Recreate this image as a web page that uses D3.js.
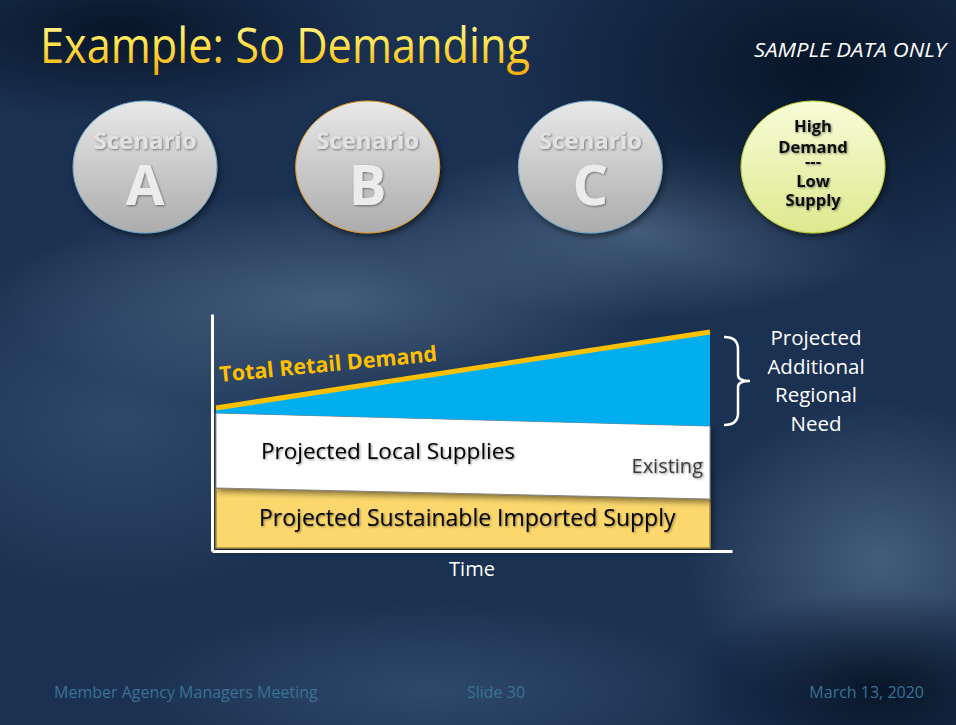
<!DOCTYPE html>
<html lang="en">
<head>
<meta charset="utf-8">
<title>Example: So Demanding</title>
<script src="https://d3js.org/d3.v7.min.js"></script>
<style>
  html, body { margin: 0; padding: 0; background: #1a3050; }
  svg { display: block; font-family: "Open Sans", sans-serif; }
</style>
</head>
<body>
<script>
// time runs from start (0) to end (1) of the planning window
var periods = [0, 1];
// sample data, arbitrary units
var importedSupply = [60, 49];   // projected sustainable imported supply
var localSupply = [75, 73];      // projected local supplies (existing), stacked on imports
var retailDemand = [140, 216];   // total retail demand

var scenarios = ["A", "B", "C"];
var scenarioEdges = ["#6fa8c8", "#e09a2a", "#6fa8c8"];
var highLowLines = ["High", "Demand", "---", "Low", "Supply"];
var needLines = ["Projected", "Additional", "Regional", "Need"];
var footerLabels = ["Member Agency Managers Meeting", "Slide 30", "March 13, 2020"];

var w = 956, h = 725;

var svg = d3.select("body").append("svg")
  .attr("width", w)
  .attr("height", h);

var defs = svg.append("defs");

// background blobs
function radial(id, color, op) {
  var g = defs.append("radialGradient").attr("id", id);
  g.append("stop").attr("offset", "0%").attr("stop-color", color).attr("stop-opacity", op);
  g.append("stop").attr("offset", "100%").attr("stop-color", color).attr("stop-opacity", 0);
}
radial("darkBlob", "#061426", 0.95);
radial("lightBlob", "#56708e", 0.7);
radial("midBlob", "#3a5677", 0.65);

var titleGrad = defs.append("linearGradient").attr("id", "titleGrad")
  .attr("x1", 0).attr("y1", 0).attr("x2", 0).attr("y2", 1);
titleGrad.append("stop").attr("offset", "0%").attr("stop-color", "#fffbb0");
titleGrad.append("stop").attr("offset", "50%").attr("stop-color", "#ffe34a");
titleGrad.append("stop").attr("offset", "100%").attr("stop-color", "#f7a500");

var grayGrad = defs.append("linearGradient").attr("id", "grayGrad")
  .attr("x1", 0).attr("y1", 0).attr("x2", 0).attr("y2", 1);
grayGrad.append("stop").attr("offset", "0%").attr("stop-color", "#e8e8e8");
grayGrad.append("stop").attr("offset", "100%").attr("stop-color", "#acacac");

var greenGrad = defs.append("linearGradient").attr("id", "greenGrad")
  .attr("x1", 0).attr("y1", 0).attr("x2", 0).attr("y2", 1);
greenGrad.append("stop").attr("offset", "0%").attr("stop-color", "#f8fcd8");
greenGrad.append("stop").attr("offset", "100%").attr("stop-color", "#dde98e");

var shadow = defs.append("filter").attr("id", "shadow")
  .attr("x", "-20%").attr("y", "-20%").attr("width", "140%").attr("height", "140%");
shadow.append("feDropShadow").attr("dx", 2).attr("dy", 3).attr("stdDeviation", 3)
  .attr("flood-color", "#000").attr("flood-opacity", 0.5);

var textShadow = defs.append("filter").attr("id", "textShadow");
textShadow.append("feDropShadow").attr("dx", 1).attr("dy", 1).attr("stdDeviation", 0.8)
  .attr("flood-color", "#000").attr("flood-opacity", 0.45);

// background
svg.append("rect").attr("width", w).attr("height", h).attr("fill", "#1b3152");
[
  ["midBlob", 120, 420, 260, 180],
  ["lightBlob", 330, 300, 330, 110],
  ["lightBlob", 640, 230, 260, 90],
  ["lightBlob", 880, 560, 200, 160],
  ["midBlob", 430, 690, 300, 90],
  ["darkBlob", 820, 70, 320, 200],
  ["darkBlob", 880, 690, 200, 100],
  ["darkBlob", 120, 30, 260, 90]
].forEach(function(b) {
  svg.append("ellipse").attr("cx", b[1]).attr("cy", b[2]).attr("rx", b[3]).attr("ry", b[4])
    .attr("fill", "url(#" + b[0] + ")");
});

// title
svg.append("text")
  .attr("x", 40).attr("y", 63)
  .attr("font-size", 50).attr("font-weight", 400)
  .attr("textLength", 490).attr("lengthAdjust", "spacingAndGlyphs")
  .attr("fill", "url(#titleGrad)")
  .text("Example: So Demanding");

svg.append("text")
  .attr("x", 754).attr("y", 57)
  .attr("font-size", 20).attr("font-style", "italic")
  .attr("textLength", 192).attr("lengthAdjust", "spacingAndGlyphs")
  .attr("fill", "#fff")
  .text("SAMPLE DATA ONLY");

// scenario circles
var cx = d3.scalePoint().domain(scenarios.concat(["D"])).range([145, 813]);

var circ = svg.selectAll("g.scenario").data(scenarios).enter().append("g")
  .attr("class", "scenario")
  .attr("transform", function(d) { return "translate(" + cx(d) + ",167)"; });
circ.append("ellipse").attr("rx", 72).attr("ry", 66)
  .attr("fill", "url(#grayGrad)")
  .attr("stroke", function(d, i) { return scenarioEdges[i]; }).attr("stroke-width", 1)
  .attr("filter", "url(#shadow)");
circ.append("text").attr("y", -18).attr("text-anchor", "middle")
  .attr("font-size", 24).attr("font-weight", 700).attr("fill", "#e2e2e2")
  .attr("filter", "url(#textShadow)")
  .text("Scenario");
circ.append("text").attr("y", 38).attr("text-anchor", "middle")
  .attr("font-size", 56).attr("font-weight", 700).attr("fill", "#ececec")
  .attr("filter", "url(#textShadow)")
  .text(function(d) { return d; });

var hl = svg.append("g").attr("transform", "translate(" + cx("D") + ",167)");
hl.append("ellipse").attr("rx", 72).attr("ry", 66)
  .attr("fill", "url(#greenGrad)").attr("stroke", "#b8c830").attr("stroke-width", 1)
  .attr("filter", "url(#shadow)");
hl.selectAll("text").data(highLowLines).enter().append("text")
  .attr("text-anchor", "middle")
  .attr("y", function(d, i) { return [-35, -14, 0, 20, 39][i]; })
  .attr("font-size", 16.5).attr("font-weight", 700).attr("fill", "#111")
  .attr("filter", "url(#textShadow)")
  .text(function(d) { return d; });

// chart
var x = d3.scaleLinear().domain([0, 1]).range([216, 710]);
var y = d3.scaleLinear().domain([0, 240]).range([548, 308]);

var importedTop = periods.map(function(p, i) { return importedSupply[i]; });
var localTop = periods.map(function(p, i) { return importedSupply[i] + localSupply[i]; });

var band = d3.area()
  .x(function(d) { return x(d.t); })
  .y0(function(d) { return y(d.lo); })
  .y1(function(d) { return y(d.hi); });

function bandData(lo, hi) {
  return periods.map(function(p, i) { return { t: p, lo: lo[i], hi: hi[i] }; });
}

var chart = svg.append("g");

chart.append("path")
  .datum(bandData([0, 0], importedTop))
  .attr("d", band)
  .attr("fill", "#fcd86c").attr("stroke", "#a88a3c").attr("stroke-width", 1.5)
  .attr("filter", "url(#shadow)");

chart.append("path")
  .datum(bandData(importedTop, localTop))
  .attr("d", band)
  .attr("fill", "#fff").attr("stroke", "#888").attr("stroke-width", 1)
  .attr("filter", "url(#shadow)");

chart.append("path")
  .datum(bandData(localTop, retailDemand))
  .attr("d", band)
  .attr("fill", "#00aeef");

chart.append("path")
  .datum(periods.map(function(p, i) { return [p, retailDemand[i]]; }))
  .attr("d", d3.line().x(function(d) { return x(d[0]); }).y(function(d) { return y(d[1]); }))
  .attr("fill", "none").attr("stroke", "#ffc000").attr("stroke-width", 5);

// axes
var axisX = d3.scaleLinear().domain([0, 1]).range([212, 732]);
var axisY = d3.scaleLinear().domain([0, 1]).range([551, 314]);

chart.append("g").attr("transform", "translate(0,551)")
  .call(d3.axisBottom(axisX).tickValues([]).tickSizeOuter(0))
  .select(".domain").attr("stroke", "#fff").attr("stroke-width", 3);
chart.append("g").attr("transform", "translate(212,0)")
  .call(d3.axisLeft(axisY).tickValues([]).tickSizeOuter(0))
  .select(".domain").attr("stroke", "#fff").attr("stroke-width", 3);

// labels
chart.append("text")
  .attr("transform", "translate(" + (x(0) + 4) + "," + 382 + ") rotate(-5.5)")
  .attr("font-size", 21.5).attr("font-weight", 700).attr("fill", "#ffc000")
  .text("Total Retail Demand");

chart.append("text")
  .attr("x", 261).attr("y", 459)
  .attr("font-size", 22.5).attr("fill", "#000")
  .attr("filter", "url(#textShadow)")
  .text("Projected Local Supplies");

chart.append("text")
  .attr("x", 703).attr("y", 473).attr("text-anchor", "end")
  .attr("font-size", 20).attr("fill", "#3a3a3a")
  .attr("filter", "url(#textShadow)")
  .text("Existing");

chart.append("text")
  .attr("x", 259).attr("y", 526)
  .attr("font-size", 23).attr("fill", "#000")
  .attr("filter", "url(#textShadow)")
  .text("Projected Sustainable Imported Supply");

chart.append("text")
  .attr("x", (axisX(0) + axisX(1)) / 2).attr("y", 576).attr("text-anchor", "middle")
  .attr("font-size", 20).attr("fill", "#fff")
  .text("Time");

// bracket around the gap between demand and supply at the end of the window
var bTop = y(retailDemand[1]) + 5, bBot = y(localTop[1]) - 1, bMid = (bTop + bBot) / 2;
chart.append("path")
  .attr("d", "M724," + bTop + " Q738," + bTop + " 738," + (bTop + 12) +
    " V" + (bMid - 6) + " Q738," + bMid + " 750," + bMid +
    " Q738," + bMid + " 738," + (bMid + 6) +
    " V" + (bBot - 12) + " Q738," + bBot + " 724," + bBot)
  .attr("fill", "none").attr("stroke", "#fff").attr("stroke-width", 2.5);

chart.selectAll("text.need").data(needLines).enter().append("text")
  .attr("class", "need")
  .attr("x", 816).attr("y", function(d, i) { return 345 + i * 28.5; })
  .attr("text-anchor", "middle")
  .attr("font-size", 20.5).attr("fill", "#fff")
  .text(function(d) { return d; });

// footer
svg.selectAll("text.footer").data(footerLabels).enter().append("text")
  .attr("class", "footer")
  .attr("x", function(d, i) { return [54, 496, 924][i]; })
  .attr("y", 698)
  .attr("text-anchor", function(d, i) { return ["start", "middle", "end"][i]; })
  .attr("font-size", 16).attr("fill", "#3a7194")
  .text(function(d) { return d; });
</script>
</body>
</html>
